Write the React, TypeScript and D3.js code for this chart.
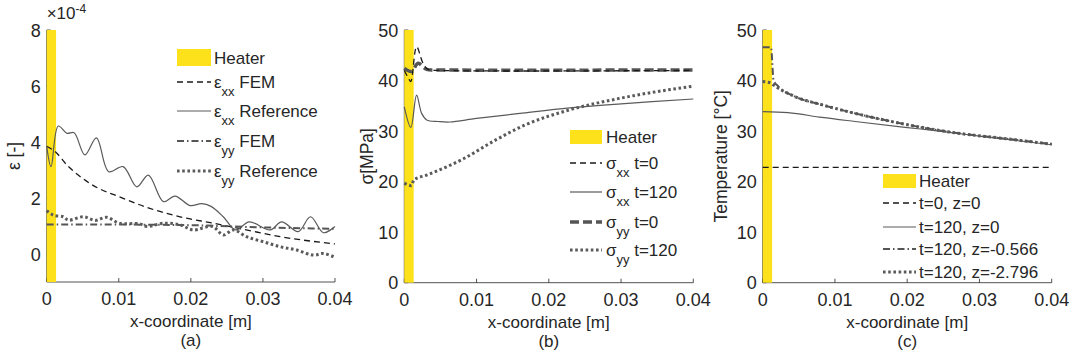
import React from "react";
import * as d3 from "d3";

// ---------- shared ----------
const xTicks = [0, 0.01, 0.02, 0.03, 0.04];
const xTickLabels = ["0", "0.01", "0.02", "0.03", "0.04"];
const heaterRange = [0, 0.0013];

// ---------- panel (a): strain, values in 1e-4 ----------
const aYTicks = [0, 2, 4, 6, 8];
const aExxFemX = [0, 0.0012, 0.0028, 0.006, 0.0106, 0.0143, 0.0185, 0.0231, 0.0277, 0.0324, 0.04];
const aExxFemY = [3.85, 3.65, 3.18, 2.52, 1.99, 1.63, 1.33, 1.1, 0.86, 0.62, 0.36];
const aExxRefX = [0, 0.0006, 0.0016, 0.0028, 0.0038, 0.0053, 0.0069, 0.0086, 0.0106, 0.0125, 0.0141, 0.0162, 0.0178, 0.0199, 0.0215, 0.0228, 0.0245, 0.0262, 0.0281, 0.031, 0.0326, 0.0349, 0.0366, 0.0384, 0.04];
const aExxRefY = [3.85, 3.12, 4.57, 4.31, 4.33, 3.54, 4.15, 2.94, 3.12, 2.4, 2.82, 1.87, 2.07, 1.73, 1.8, 1.7, 1.33, 0.86, 1.15, 0.86, 1.15, 0.8, 1.33, 0.76, 0.98];
const aEyyFemX = [0, 0.01, 0.02, 0.026, 0.03, 0.04];
const aEyyFemY = [1.05, 1.05, 1.03, 0.98, 0.95, 0.9];
const aEyyRefX = [0, 0.0009, 0.0023, 0.003, 0.0051, 0.0067, 0.0083, 0.0101, 0.0129, 0.0139, 0.0162, 0.0185, 0.0203, 0.023, 0.0245, 0.0259, 0.0277, 0.03, 0.0324, 0.0347, 0.037, 0.0384, 0.04];
const aEyyRefY = [1.55, 1.39, 1.33, 1.21, 1.33, 1.2, 1.31, 1.1, 1.08, 0.98, 1.1, 1.04, 0.86, 0.98, 0.68, 0.86, 0.62, 0.44, 0.26, 0.14, -0.04, 0.02, -0.12];

// ---------- panel (b): stress MPa ----------
const bYTicks = [0, 10, 20, 30, 40, 50];
const bSxx0X = [0, 0.0006, 0.0009, 0.0017, 0.0026, 0.0033, 0.005, 0.04];
const bSxx0Y = [42, 40.4, 39.8, 46.7, 43.4, 42.2, 42, 42];
const bSxx120X = [0, 0.0009, 0.0017, 0.0024, 0.0031, 0.0047, 0.0063, 0.01, 0.016, 0.0229, 0.03, 0.04];
const bSxx120Y = [34.8, 30.75, 37.1, 33.5, 32.2, 31.9, 31.8, 32.5, 33.5, 34.6, 35.4, 36.35];
const bSyy0X = [0, 0.001, 0.0019, 0.0031, 0.005, 0.04];
const bSyy0Y = [42.4, 41.8, 43.4, 42.2, 42.1, 42.1];
const bSyy120X = [0, 0.001, 0.0013, 0.0031, 0.0059, 0.0079, 0.0126, 0.0167, 0.0229, 0.0299, 0.04];
const bSyy120Y = [19.7, 19.2, 20.3, 21.3, 22.95, 24.3, 28.2, 31.2, 34.2, 36.5, 38.9];

// ---------- panel (c): temperature °C ----------
const cYTicks = [0, 10, 20, 30, 40, 50];
const cT0X = [0, 0.04];
const cT0Y = [22.8, 22.8];
const cT120z0X = [0, 0.0035, 0.0082, 0.0128, 0.0197, 0.025, 0.03, 0.04];
const cT120z0Y = [33.85, 33.65, 32.7, 31.9, 30.75, 29.9, 29.0, 27.3];
const cT120z1X = [0, 0.00115, 0.0015, 0.0022, 0.0045, 0.0082, 0.0128, 0.0192, 0.0269, 0.033, 0.04];
const cT120z1Y = [46.6, 46.6, 40.1, 38.8, 36.8, 35.2, 33.5, 31.5, 29.6, 28.6, 27.45];
const cT120z2X = [0, 0.0011, 0.0018, 0.0045, 0.0082, 0.0128, 0.0192, 0.0269, 0.033, 0.04];
const cT120z2Y = [39.8, 39.5, 38.8, 36.8, 35.2, 33.5, 31.5, 29.6, 28.6, 27.4];

// ---------- styles ----------
const FONT = "'Liberation Sans', Arial, Helvetica, sans-serif";
const TXT = "#262626";
const YELLOW = "#FDE11A";

const STY: Record<string, any> = {
  dashBlack: { stroke: "#1a1a1a", strokeWidth: 1.3, strokeDasharray: "6,4" },
  solidGrey: { stroke: "#5a5a5a", strokeWidth: 1.2 },
  dashDot: { stroke: "#555", strokeWidth: 2, strokeDasharray: "7,3,1.5,3" },
  dotted: { stroke: "#5a5a5a", strokeWidth: 3, strokeDasharray: "2.6,2.6" },
  thickDash: { stroke: "#555", strokeWidth: 3.5, strokeDasharray: "9,4" },
};

type Series = { xs: number[]; ys: number[]; style: string; curve?: any };
type LegendItem = { main: string; sub?: string; rest: string; style: string };

type PanelProps = {
  x0: number; x1: number; yTop: number; yBot: number;
  yDomain: [number, number];
  yTicks: number[];
  series: Series[];
  yLabel: string;
  yLabelX: number;
  caption: string;
  legend: { lineX0: number; lineX1: number; textX: number; heaterY0: number; heaterY1: number; ys: number[]; items: LegendItem[]; fontSize: number };
  exponent?: boolean;
};

function Panel(p: PanelProps) {
  const x = d3.scaleLinear().domain([0, 0.04]).range([p.x0, p.x1]);
  const y = d3.scaleLinear().domain(p.yDomain).range([p.yBot, p.yTop]);
  const midY = (p.yTop + p.yBot) / 2;
  const lg = p.legend;
  return (
    <g>
      {/* axes */}
      <line x1={p.x0} x2={p.x1} y1={p.yBot} y2={p.yBot} stroke={TXT} strokeWidth={0.8} />
      <line x1={p.x0} x2={p.x0} y1={p.yTop} y2={p.yBot} stroke={TXT} strokeWidth={0.8} />
      {xTicks.map((t, i) => (
        <g key={"xt" + i}>
          <line x1={x(t)} x2={x(t)} y1={p.yBot} y2={p.yBot - 4} stroke={TXT} strokeWidth={0.8} />
          <text x={x(t)} y={p.yBot + 23} textAnchor="middle" fontSize={18} fill={TXT} fontFamily={FONT}>{xTickLabels[i]}</text>
        </g>
      ))}
      {p.yTicks.map((t, i) => (
        <g key={"yt" + i}>
          <line x1={p.x0} x2={p.x0 + 4} y1={y(t)} y2={y(t)} stroke={TXT} strokeWidth={0.8} />
          <text x={p.x0 - 6} y={y(t) + 6.5} textAnchor="end" fontSize={18} fill={TXT} fontFamily={FONT}>{String(t)}</text>
        </g>
      ))}
      {/* heater */}
      <rect x={x(heaterRange[0])} y={p.yTop} width={x(heaterRange[1]) - x(heaterRange[0])} height={p.yBot - p.yTop} fill={YELLOW} />
      {/* series */}
      {p.series.map((s, i) => {
        const pts: [number, number][] = s.xs.map((v, k) => [v, s.ys[k]]);
        const gen = d3.line<[number, number]>().x((d) => x(d[0])).y((d) => y(d[1])).curve(s.curve || d3.curveMonotoneX);
        return <path key={"s" + i} d={gen(pts) || ""} fill="none" {...STY[s.style]} />;
      })}
      {/* labels */}
      <text x={(p.x0 + p.x1) / 2} y={p.yBot + 45} textAnchor="middle" fontSize={17} fill={TXT} fontFamily={FONT}>x-coordinate [m]</text>
      <text x={(p.x0 + p.x1) / 2} y={p.yBot + 64} textAnchor="middle" fontSize={17} fill={TXT} fontFamily={FONT}>{p.caption}</text>
      <text transform={`translate(${p.yLabelX},${midY}) rotate(-90)`} textAnchor="middle" fontSize={17.5} fill={TXT} fontFamily={FONT}>{p.yLabel}</text>
      {p.exponent && (
        <text x={p.x0} y={p.yTop - 11} fontSize={17} fill={TXT} fontFamily={FONT}>
          ×10<tspan dy={-6} fontSize={12}>-4</tspan>
        </text>
      )}
      {/* legend */}
      <rect x={lg.lineX0} y={lg.heaterY0} width={lg.lineX1 - lg.lineX0} height={lg.heaterY1 - lg.heaterY0} fill={YELLOW} />
      <text x={lg.textX} y={(lg.heaterY0 + lg.heaterY1) / 2 + 6} fontSize={lg.fontSize} fill={TXT} fontFamily={FONT}>Heater</text>
      {lg.items.map((it, i) => (
        <g key={"lg" + i}>
          <line x1={lg.lineX0} x2={lg.lineX1} y1={lg.ys[i]} y2={lg.ys[i]} {...STY[it.style]} />
          <text x={lg.textX} y={lg.ys[i] + 6} fontSize={lg.fontSize} fill={TXT} fontFamily={FONT}>
            {it.main}
            {it.sub ? <tspan dy={8} fontSize={13}>{it.sub}</tspan> : null}
            {it.sub ? <tspan dy={-8}>{it.rest}</tspan> : <tspan>{it.rest}</tspan>}
          </text>
        </g>
      ))}
    </g>
  );
}

export default function App() {
  const cr = d3.curveCatmullRom.alpha(0.5);
  return (
    <svg width={1071} height={361} style={{ position: "absolute", left: 0, top: 0, background: "#fff" }}>
      <rect x={0} y={0} width={1071} height={361} fill="#fff" />
      <Panel
        x0={46.7} x1={335} yTop={30} yBot={282} yDomain={[-1, 8]} yTicks={aYTicks}
        yLabel="ε [-]" yLabelX={20} caption="(a)" exponent
        series={[
          { xs: aExxFemX, ys: aExxFemY, style: "dashBlack", curve: d3.curveMonotoneX },
          { xs: aExxRefX, ys: aExxRefY, style: "solidGrey", curve: cr },
          { xs: aEyyFemX, ys: aEyyFemY, style: "dashDot", curve: d3.curveMonotoneX },
          { xs: aEyyRefX, ys: aEyyRefY, style: "dotted", curve: cr },
        ]}
        legend={{
          lineX0: 177, lineX1: 211, textX: 214, heaterY0: 49, heaterY1: 66, fontSize: 17,
          ys: [82, 111, 141, 171],
          items: [
            { main: "ε", sub: "xx", rest: " FEM", style: "dashBlack" },
            { main: "ε", sub: "xx", rest: " Reference", style: "solidGrey" },
            { main: "ε", sub: "yy", rest: " FEM", style: "dashDot" },
            { main: "ε", sub: "yy", rest: " Reference", style: "dotted" },
          ],
        }}
      />
      <Panel
        x0={404.3} x1={693.3} yTop={30} yBot={282.7} yDomain={[0, 50]} yTicks={bYTicks}
        yLabel="σ[MPa]" yLabelX={373} caption="(b)"
        series={[
          { xs: bSyy120X, ys: bSyy120Y, style: "dotted", curve: d3.curveMonotoneX },
          { xs: bSxx120X, ys: bSxx120Y, style: "solidGrey", curve: cr },
          { xs: bSyy0X, ys: bSyy0Y, style: "thickDash", curve: cr },
          { xs: bSxx0X, ys: bSxx0Y, style: "dashBlack", curve: cr },
        ]}
        legend={{
          lineX0: 570, lineX1: 602, textX: 606, heaterY0: 130, heaterY1: 144, fontSize: 17,
          ys: [163, 192, 222, 250],
          items: [
            { main: "σ", sub: "xx", rest: " t=0", style: "dashBlack" },
            { main: "σ", sub: "xx", rest: " t=120", style: "solidGrey" },
            { main: "σ", sub: "yy", rest: " t=0", style: "thickDash" },
            { main: "σ", sub: "yy", rest: " t=120", style: "dotted" },
          ],
        }}
      />
      <Panel
        x0={762.7} x1={1051.7} yTop={30} yBot={282.7} yDomain={[0, 50]} yTicks={cYTicks}
        yLabel="Temperature [°C]" yLabelX={727} caption="(c)"
        series={[
          { xs: cT0X, ys: cT0Y, style: "dashBlack" },
          { xs: cT120z0X, ys: cT120z0Y, style: "solidGrey" },
          { xs: cT120z2X, ys: cT120z2Y, style: "dotted" },
          { xs: cT120z1X, ys: cT120z1Y, style: "dashDot" },
        ]}
        legend={{
          lineX0: 883, lineX1: 916, textX: 919, heaterY0: 174, heaterY1: 188, fontSize: 17,
          ys: [203, 227, 249, 272],
          items: [
            { main: "t=0, z=0", rest: "", style: "dashBlack" },
            { main: "t=120, z=0", rest: "", style: "solidGrey" },
            { main: "t=120, z=-0.566", rest: "", style: "dashDot" },
            { main: "t=120, z=-2.796", rest: "", style: "dotted" },
          ],
        }}
      />
    </svg>
  );
}
